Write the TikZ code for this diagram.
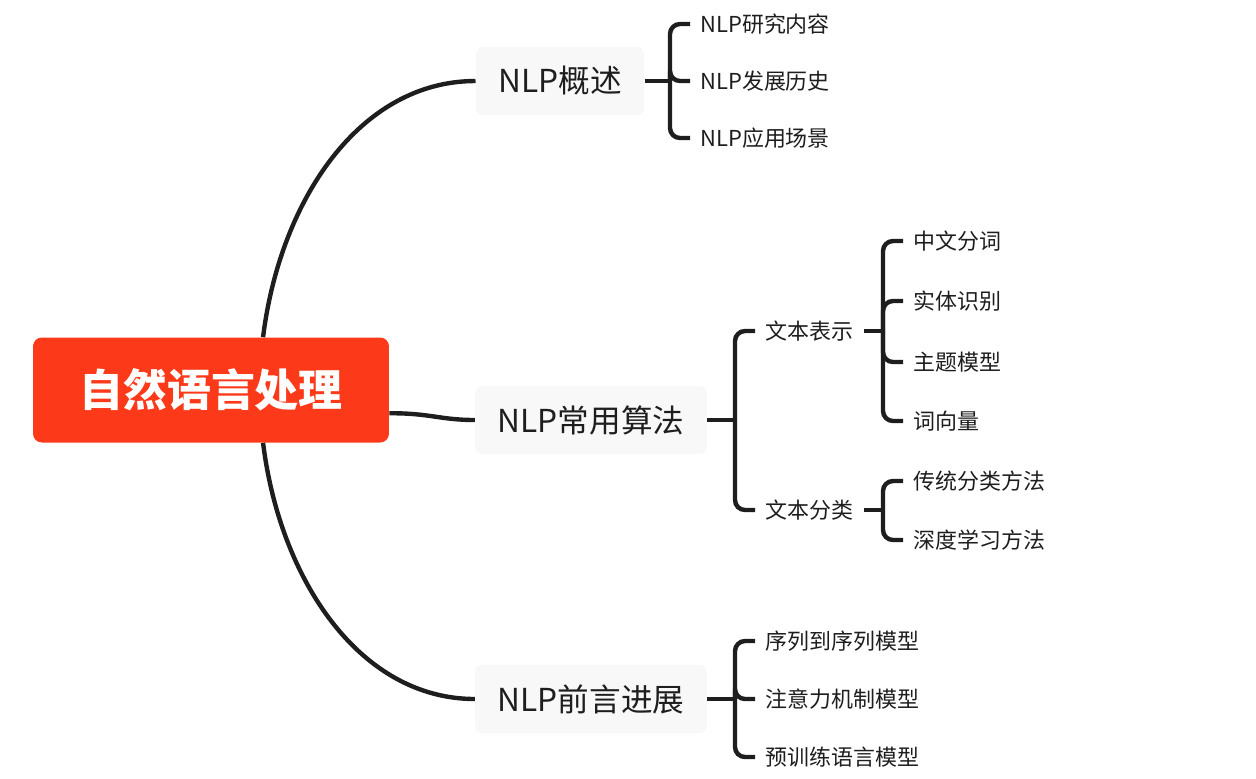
\documentclass[tikz,border=0pt]{standalone}
\usepackage{fontspec}
\setmainfont{Noto Sans CJK SC}
\usepackage{xcolor}
\usepackage{tikz}
\usetikzlibrary{calc}
\definecolor{rootred}{RGB}{252,58,26}
\definecolor{ink}{RGB}{30,30,30}
\definecolor{topicbg}{RGB}{248,248,248}

\begin{document}
\begin{tikzpicture}[x=0.02cm, y=-0.02cm,
		root/.style={fill=rootred, text=white, rounded corners=5pt, minimum width=7.12cm, minimum height=2.1cm, font=\fontsize{25}{30}\selectfont\bfseries},
		topic/.style={fill=topicbg, text=ink, rounded corners=4pt, minimum height=1.36cm, inner xsep=0.45cm, font=\fontsize{18}{22}\selectfont},
		leaf/.style={anchor=west, text=ink, inner xsep=0.2cm, inner ysep=0pt, font=\fontsize{12.5}{15}\selectfont},
		link/.style={draw=ink, line width=2.5pt},
		fork/.style={link, rounded corners=0.2cm}]
			\useasboundingbox (0,0) rectangle (1256,778);
			
			\node[root] (nlp) at (211,390) {自然语言处理};
			
			\node[topic] (t1) at (560,81) {NLP概述};
			\node[topic] (t2) at (591,420) {NLP常用算法};
			\node[topic] (t3) at (591,699) {NLP前言进展};
			
			\node[leaf] (a1) at (690,24) {NLP研究内容};
			\node[leaf] (a2) at (690,81) {NLP发展历史};
			\node[leaf] (a3) at (690,138) {NLP应用场景};
			
			\node[leaf] (b1) at (755,331) {文本表示};
			\node[leaf] (b2) at (755,510) {文本分类};
			
			\node[leaf] (c1) at (903,241) {中文分词};
			\node[leaf] (c2) at (903,301) {实体识别};
			\node[leaf] (c3) at (903,362) {主题模型};
			\node[leaf] (c4) at (903,421) {词向量};
			
			\node[leaf] (d1) at (903,481) {传统分类方法};
			\node[leaf] (d2) at (903,540) {深度学习方法};
			
			\node[leaf] (e1) at (755,641) {序列到序列模型};
			\node[leaf] (e2) at (755,699) {注意力机制模型};
			\node[leaf] (e3) at (755,757) {预训练语言模型};
			
			\coordinate (j1) at (670,81);
			\coordinate (j2) at (735,420);
			\coordinate (j3) at (883,331);
			\coordinate (j4) at (883,510);
			\coordinate (j5) at (735,699);
			
			\draw[link] ($(nlp.north west)!0.646!(nlp.north east)$) .. controls (280,200) and (360,81) .. (t1.west);
			\draw[link] ($(nlp.north east)!0.72!(nlp.south east)$) .. controls (430,413) and (440,420) .. (t2.west);
			\draw[link] ($(nlp.south west)!0.646!(nlp.south east)$) .. controls (280,580) and (360,699) .. (t3.west);
			
			\draw[link] (t1.east) -- (j1);
			\draw[fork] (j1) |- (a1.west);
			\draw[fork] (j1) |- (a2.west);
			\draw[fork] (j1) |- (a3.west);
			
			\draw[link] (t2.east) -- (j2);
			\draw[fork] (j2) |- (b1.west);
			\draw[fork] (j2) |- (b2.west);
			
			\draw[link] (b1.east) -- (j3);
			\draw[fork] (j3) |- (c1.west);
			\draw[fork] (j3) |- (c2.west);
			\draw[fork] (j3) |- (c3.west);
			\draw[fork] (j3) |- (c4.west);
			
			\draw[link] (b2.east) -- (j4);
			\draw[fork] (j4) |- (d1.west);
			\draw[fork] (j4) |- (d2.west);
			
			\draw[link] (t3.east) -- (j5);
			\draw[fork] (j5) |- (e1.west);
			\draw[fork] (j5) |- (e2.west);
			\draw[fork] (j5) |- (e3.west);
		\end{tikzpicture}
\end{document}
